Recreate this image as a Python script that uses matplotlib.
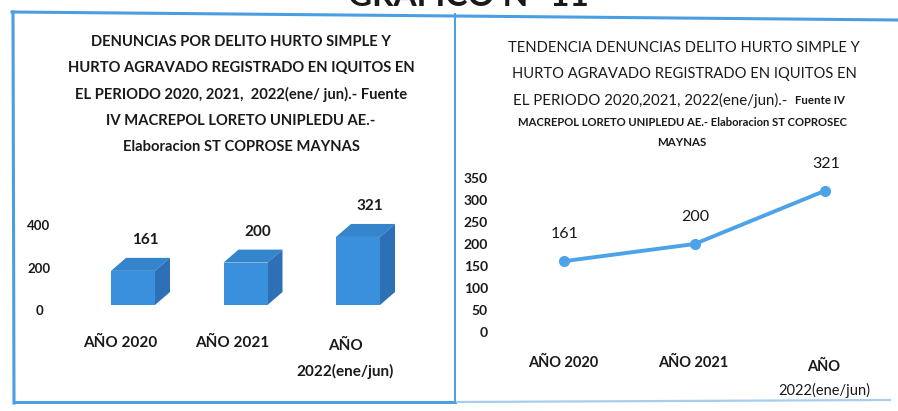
import matplotlib
matplotlib.use("Agg")
import matplotlib.pyplot as plt
from matplotlib.patches import Polygon
from matplotlib.lines import Line2D

# ---------------- data ----------------
categories = ["AÑO 2020", "AÑO 2021", "AÑO\n2022(ene/jun)"]
values = [161, 200, 321]
bar_ticks = [0, 200, 400]
line_ticks = [0, 50, 100, 150, 200, 250, 300, 350]

left_title = ["DENUNCIAS POR DELITO HURTO SIMPLE Y",
              "HURTO AGRAVADO REGISTRADO EN IQUITOS EN",
              "EL PERIODO 2020, 2021,  2022(ene/ jun).- Fuente",
              "IV MACREPOL LORETO UNIPLEDU AE.-",
              "Elaboracion ST COPROSE MAYNAS"]
right_title_big = ["TENDENCIA DENUNCIAS DELITO HURTO SIMPLE Y",
                   "HURTO AGRAVADO REGISTRADO EN IQUITOS EN"]
right_title_l3a = "EL PERIODO 2020,2021, 2022(ene/jun).- "
right_title_l3b = "Fuente IV"
right_title_l4 = "MACREPOL LORETO UNIPLEDU AE.- Elaboracion ST COPROSEC"
right_title_l5 = "MAYNAS"
top_heading = "GRÁFICO N° 11"

# ---------------- style ----------------
FONT = ["Lato", "DejaVu Sans"]
plt.rcParams["font.family"] = FONT
W, H = 898, 411
fig = plt.figure(figsize=(W / 100, H / 100), dpi=100)
fig.patch.set_facecolor("white")

def fx(px):
    return px / W

def fy(py):
    return 1 - py / H

BORDER = "#4a9fe3"
FRONT = "#3a90dc"
TOP = "#3585cc"
SIDE = "#2d70b5"
LINEC = "#4da3e8"
TXT = "#1a1a1a"

# frame
fig.add_artist(Line2D([fx(12), fx(898)], [fy(12), fy(20)], color=BORDER, lw=2.2))
fig.add_artist(Line2D([fx(13), fx(14)], [fy(12), fy(403)], color=BORDER, lw=2.2))
fig.add_artist(Line2D([fx(14), fx(455)], [fy(402), fy(402)], color=BORDER, lw=2.2))
fig.add_artist(Line2D([fx(455), fx(890)], [fy(402), fy(400)], color="#a8cdef", lw=1.6))
fig.add_artist(Line2D([fx(455), fx(455)], [fy(14), fy(402)], color=BORDER, lw=1.4))

# partial heading at very top (cut by the page edge, as in the scan)
fig.text(fx(468), fy(6), top_heading, ha="center", va="baseline", fontsize=24,
         fontweight="bold", color=TXT)

# ---------------- left: 3D-like bar chart ----------------
ax_l_left, ax_l_right = 100, 420
zero_px, px_per_unit = 305, 0.212
ymax_l = 450
ax1 = fig.add_axes([fx(ax_l_left), fy(zero_px), fx(ax_l_right - ax_l_left),
                    ymax_l * px_per_unit / H])
x0_px, step_px = 133, 112.5
ax1.set_xlim((ax_l_left - x0_px) / step_px, (ax_l_right - x0_px) / step_px)
ax1.set_ylim(0, ymax_l)
ax1.axis("off")
ax1.set_facecolor("none")

bar_w = 44 / step_px
dx = 15 / step_px
dy = 13 / px_per_unit
xs = list(range(len(values)))
ax1.bar(xs, values, width=bar_w, color=FRONT, edgecolor="none", zorder=3)
for x, v in zip(xs, values):
    l, r = x - bar_w / 2, x + bar_w / 2
    ax1.add_patch(Polygon([(l, v), (r, v), (r + dx, v + dy), (l + dx, v + dy)],
                          closed=True, color=TOP, lw=0, zorder=2, clip_on=False))
    ax1.add_patch(Polygon([(r, 0), (r + dx, dy), (r + dx, v + dy), (r, v)],
                          closed=True, color=SIDE, lw=0, zorder=2, clip_on=False))
    ax1.annotate(str(v), xy=(x, v), xytext=(12, 31), textcoords="offset pixels",
                 ha="center", va="center", fontsize=11, color=TXT, fontweight="bold",
                 annotation_clip=False)

for x, c in zip(xs, categories):
    lines = c.split("\n")
    off = -38 if len(lines) == 1 else -41
    ax1.annotate(lines[0], xy=(x, 0), xytext=(-13, off), textcoords="offset pixels",
                 ha="center", va="center", fontsize=11, fontweight="bold", color=TXT,
                 annotation_clip=False)
    if len(lines) > 1:
        ax1.annotate(lines[1], xy=(x, 0), xytext=(-13, -66), textcoords="offset pixels",
                     ha="center", va="center", fontsize=11, fontweight="bold", color=TXT,
                     annotation_clip=False)

for t in bar_ticks:
    ax1.annotate(str(t), xy=(ax1.get_xlim()[0], t), xytext=(-61, -6),
                 textcoords="offset pixels", ha="center", va="center", fontsize=9.5,
                 fontweight="bold", color=TXT, annotation_clip=False)

for i, s in enumerate(left_title):
    fig.text(fx(241), fy(42 + i * 26.2), s, ha="center", va="center", fontsize=10.6,
             fontweight="bold", color=TXT)

# ---------------- right: line chart ----------------
r_left, r_right = 495, 880
r_zero, r_ppu = 332, 0.44
ymax_r = 370
ax2 = fig.add_axes([fx(r_left), fy(r_zero), fx(r_right - r_left), ymax_r * r_ppu / H])
rx0, rstep = 564, 130.5
ax2.set_xlim((r_left - rx0) / rstep, (r_right - rx0) / rstep)
ax2.set_ylim(0, ymax_r)
ax2.set_facecolor("none")
for s in ax2.spines.values():
    s.set_visible(False)
ax2.set_xticks([])
ax2.set_yticks(line_ticks)
ax2.set_yticklabels([str(t) for t in line_ticks], fontsize=10, fontweight="bold",
                    color=TXT)
ax2.tick_params(axis="y", length=0, pad=5)
ax2.plot(xs, values, color=LINEC, lw=2.8, marker="o", markersize=7, clip_on=False)
for x, v in zip(xs, values):
    ax2.annotate(str(v), xy=(x, v), xytext=(1, 27), textcoords="offset pixels",
                 ha="center", va="center", fontsize=11.5, color=TXT, annotation_clip=False)
for x, c in zip(xs, categories):
    lines = c.split("\n")
    ax2.annotate(lines[0], xy=(x, 0), xytext=(-1, -31 if len(lines) == 1 else -35),
                 textcoords="offset pixels", ha="center", va="center", fontsize=10.5,
                 fontweight="bold", color=TXT, annotation_clip=False)
    if len(lines) > 1:
        ax2.annotate(lines[1], xy=(x, 0), xytext=(-1, -58), textcoords="offset pixels",
                     ha="center", va="center", fontsize=10.5, color=TXT,
                     annotation_clip=False)

for i, s in enumerate(right_title_big):
    fig.text(fx(684), fy(48 + i * 26), s, ha="center", va="center", fontsize=10.6,
             color=TXT)
t3 = fig.text(fx(513), fy(100), right_title_l3a, ha="left", va="center",
              fontsize=10.8, color=TXT)
fig.canvas.draw()
bb = t3.get_window_extent()
fig.text(bb.x1 / W + 4 / W, fy(101), right_title_l3b, ha="left", va="center",
         fontsize=8.3, fontweight="bold", color=TXT)
fig.text(fx(682), fy(123), right_title_l4, ha="center", va="center", fontsize=8.1,
         fontweight="bold", color=TXT)
fig.text(fx(682), fy(142), right_title_l5, ha="center", va="center", fontsize=8.3,
         fontweight="bold", color=TXT)

fig.savefig("out.png", dpi=100, facecolor="white")
